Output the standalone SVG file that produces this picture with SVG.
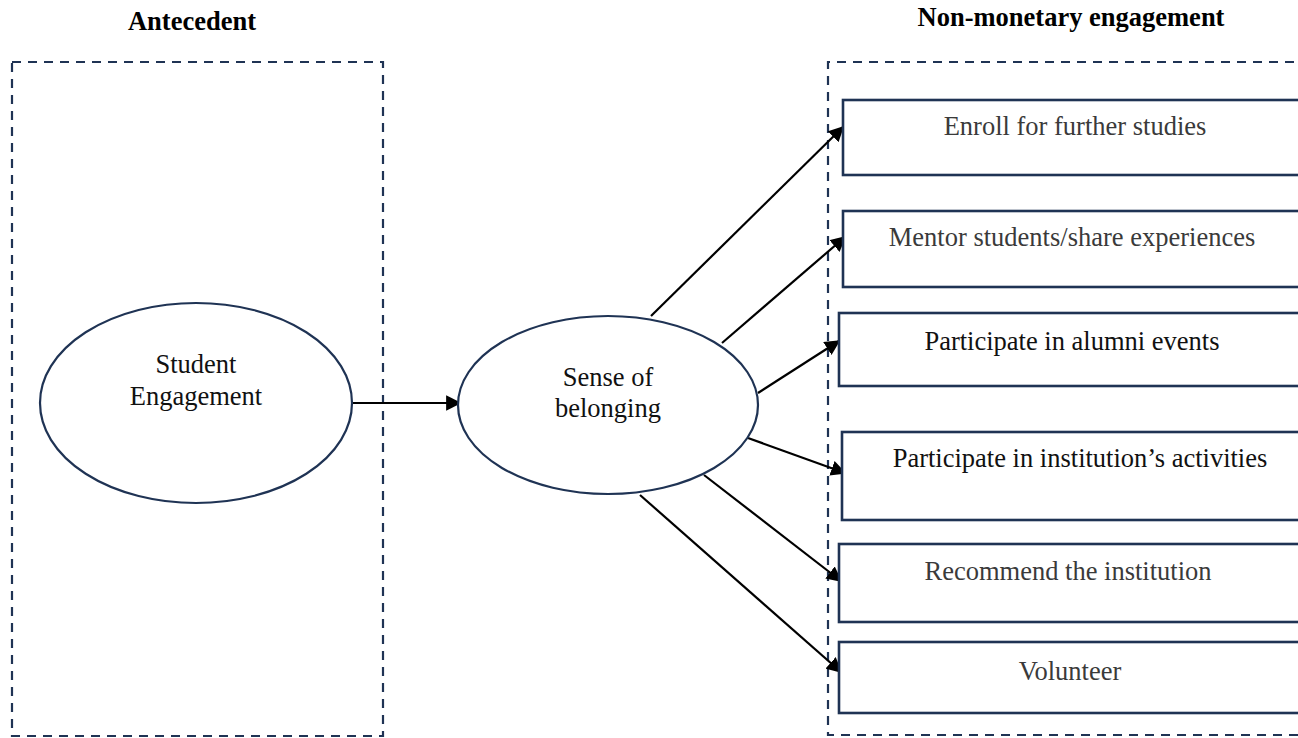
<svg xmlns="http://www.w3.org/2000/svg" width="1298" height="738" viewBox="0 0 1298 738">
  <style>
    .title { font-family: "Liberation Serif", "Times New Roman", serif; font-weight: bold; font-size: 26.5px; fill: #000; text-anchor: middle; }
    .frame { fill: none; stroke: #1f3354; stroke-width: 2.2; stroke-dasharray: 9 7; }
    .oval { fill: #fff; stroke: #1f3354; stroke-width: 2.2; }
    .box { fill: #fff; stroke: #1f3354; stroke-width: 2.6; }
    .lbl { font-family: "Liberation Serif", "Times New Roman", serif; font-size: 26.5px; fill: #111; text-anchor: middle; }
    .grey { fill: #3a3a3a; }
    .edge { stroke: #000; stroke-width: 2.2; fill: none; marker-end: url(#arrow); }
  </style>
  <defs>
    <marker id="arrow" viewBox="0 0 10 10" refX="9" refY="5" markerWidth="7" markerHeight="7" orient="auto" markerUnits="strokeWidth">
      <path d="M0,0 L10,5 L0,10 z" fill="#000"/>
    </marker>
  </defs>

  <rect width="1298" height="738" fill="#fff"/>

  <!-- section headings and frames -->
  <g id="antecedent-frame">
    <text class="title" x="192" y="30">Antecedent</text>
    <rect class="frame" x="12" y="62" width="371" height="674"/>
  </g>
  <g id="engagement-frame">
    <text class="title" x="1071" y="26">Non-monetary engagement</text>
    <path class="frame" d="M1310,62 H828 V735 H1310"/>
  </g>

  <!-- connectors -->
  <g id="connectors">
    <line class="edge" x1="352" y1="403" x2="460" y2="403"/>
    <line class="edge" x1="651" y1="316" x2="843" y2="127"/>
    <line class="edge" x1="722" y1="343" x2="845" y2="237"/>
    <line class="edge" x1="758" y1="393" x2="839" y2="341"/>
    <line class="edge" x1="748" y1="438" x2="845" y2="473"/>
    <line class="edge" x1="704" y1="475" x2="841" y2="581"/>
    <line class="edge" x1="640" y1="495" x2="841" y2="672"/>
  </g>

  <g id="student-engagement">
    <ellipse class="oval" cx="196" cy="403" rx="156" ry="100"/>
    <text class="lbl" x="196" y="373">Student</text>
    <text class="lbl" x="196" y="405">Engagement</text>
  </g>

  <g id="sense-of-belonging">
    <ellipse class="oval" cx="608" cy="405" rx="150" ry="89"/>
    <text class="lbl" x="608" y="386">Sense of</text>
    <text class="lbl" x="608" y="417">belonging</text>
  </g>

  <g id="enroll">
    <rect class="box" x="843" y="100" width="470" height="75"/>
    <text class="lbl grey" x="1075" y="135">Enroll for further studies</text>
  </g>
  <g id="mentor">
    <rect class="box" x="843" y="211" width="470" height="76"/>
    <text class="lbl grey" x="1072" y="246">Mentor students/share experiences</text>
  </g>
  <g id="alumni-events">
    <rect class="box" x="839" y="313" width="474" height="73"/>
    <text class="lbl" x="1072" y="350">Participate in alumni events</text>
  </g>
  <g id="institution-activities">
    <rect class="box" x="842" y="432" width="471" height="88"/>
    <text class="lbl" x="1080" y="467">Participate in institution’s activities</text>
  </g>
  <g id="recommend">
    <rect class="box" x="839" y="544" width="474" height="78"/>
    <text class="lbl grey" x="1068" y="580">Recommend the institution</text>
  </g>
  <g id="volunteer">
    <rect class="box" x="839" y="642" width="474" height="71"/>
    <text class="lbl grey" x="1070" y="680">Volunteer</text>
  </g>
</svg>
